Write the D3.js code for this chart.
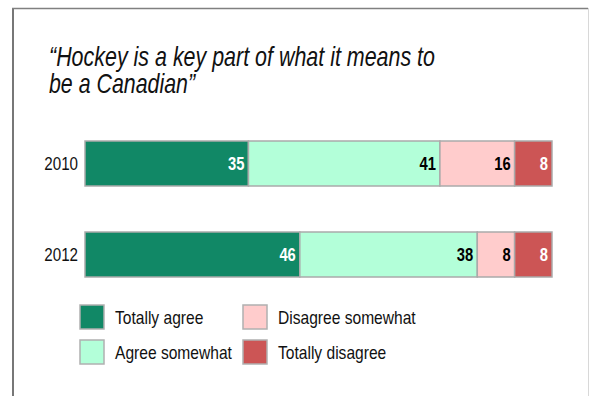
<!DOCTYPE html>
<html><head><meta charset="utf-8">
<script src="https://cdn.jsdelivr.net/npm/d3@7"></script>
<style>
body{margin:0;background:#fff;}
svg{display:block;}
text{font-family:"Liberation Sans",Arial,sans-serif;}
</style></head>
<body>
<svg id="c" width="589" height="396"></svg>
<script>
const years = ["2010", "2012"];
const categories = ["Totally agree", "Agree somewhat", "Disagree somewhat", "Totally disagree"];
const totallyAgree = [35, 46];
const agreeSomewhat = [41, 38];
const disagreeSomewhat = [16, 8];
const totallyDisagree = [8, 8];
const colors = ["#118866", "#b3ffd9", "#ffcccc", "#cc5555"];
const labelColors = ["#fff", "#000", "#000", "#fff"];
const titleLines = ["\u201CHockey is a key part of what it means to", "be a Canadian\u201D"];

const series = [totallyAgree, agreeSomewhat, disagreeSomewhat, totallyDisagree];
const svg = d3.select("#c");

// emulate a narrow font by compressing glyphs horizontally
function narrow(sel, f) {
  sel.each(function(){
    const L = this.getComputedTextLength();
    d3.select(this).attr("textLength", L*f).attr("lengthAdjust","spacingAndGlyphs");
  });
}

// frame
svg.append("line").attr("x1",13).attr("y1",8).attr("x2",13).attr("y2",396).attr("stroke","#777").attr("stroke-width",2);
svg.append("line").attr("x1",12).attr("y1",8.5).attr("x2",588).attr("y2",8.5).attr("stroke","#808080").attr("stroke-width",1.5);
svg.append("line").attr("x1",588.5).attr("y1",8).attr("x2",588.5).attr("y2",396).attr("stroke","#d8d8d8").attr("stroke-width",1);

// title
const titleWidths = [386, 146];
titleLines.forEach((t,i)=> {
  const tt = svg.append("text").attr("x",49).attr("y",66+27*i)
    .attr("font-size",28.5).attr("font-style","italic").attr("fill","#111").text(t);
  tt.attr("textLength", titleWidths[i]).attr("lengthAdjust","spacingAndGlyphs");
});

const x = d3.scaleLinear().domain([0,100]).range([85,552]);
const y = d3.scaleBand().domain(years).range([141,277]).paddingInner(0.5055).paddingOuter(0);

const rows = years.map((yr,i)=>{
  let acc = 0;
  return series.map((s,k)=>{ const d={year:yr,k,v:s[i],x0:acc,x1:acc+s[i]}; acc+=s[i]; return d; });
});

const g = svg.append("g");
rows.forEach(row=>{
  g.selectAll(null).data(row).enter().append("rect")
    .attr("x",d=>x(d.x0)).attr("y",d=>y(d.year))
    .attr("width",d=>x(d.x1)-x(d.x0)).attr("height",y.bandwidth())
    .attr("fill",d=>colors[d.k]).attr("stroke","#aaaaaa").attr("stroke-width",1.5);
  g.selectAll(null).data(row).enter().append("text")
    .attr("x",d=>x(d.x1)-4).attr("y",d=>y(d.year)+y.bandwidth()/2+6.5)
    .attr("text-anchor","end").attr("font-size",18).attr("font-weight","bold")
    .attr("fill",d=>labelColors[d.k]).text(d=>d.v)
    .call(narrow, 0.82);
});

// y axis labels
const yAxis = d3.axisLeft(y).tickSize(0).tickPadding(7);
const ya = svg.append("g").attr("transform","translate(85,0)").call(yAxis);
ya.select(".domain").remove();
ya.selectAll("text").attr("font-size",18.5).attr("fill","#111").attr("dy",null).attr("y",6.5)
  .style("font-family",'"Liberation Sans",Arial,sans-serif')
  .call(narrow, 0.82);

// legend
const legPos = [[80,305],[80,340],[243,305],[243,340]];
const lg = svg.append("g");
categories.forEach((c,k)=>{
  const [lx,ly] = legPos[k];
  lg.append("rect").attr("x",lx).attr("y",ly).attr("width",24).attr("height",24)
    .attr("fill",colors[k]).attr("stroke","#b0b0b0").attr("stroke-width",1.5);
  lg.append("text").attr("x",lx+35).attr("y",ly+19.3).attr("font-size",19).attr("fill","#111").text(c)
    .call(narrow, 0.82);
});
</script>
</body></html>
